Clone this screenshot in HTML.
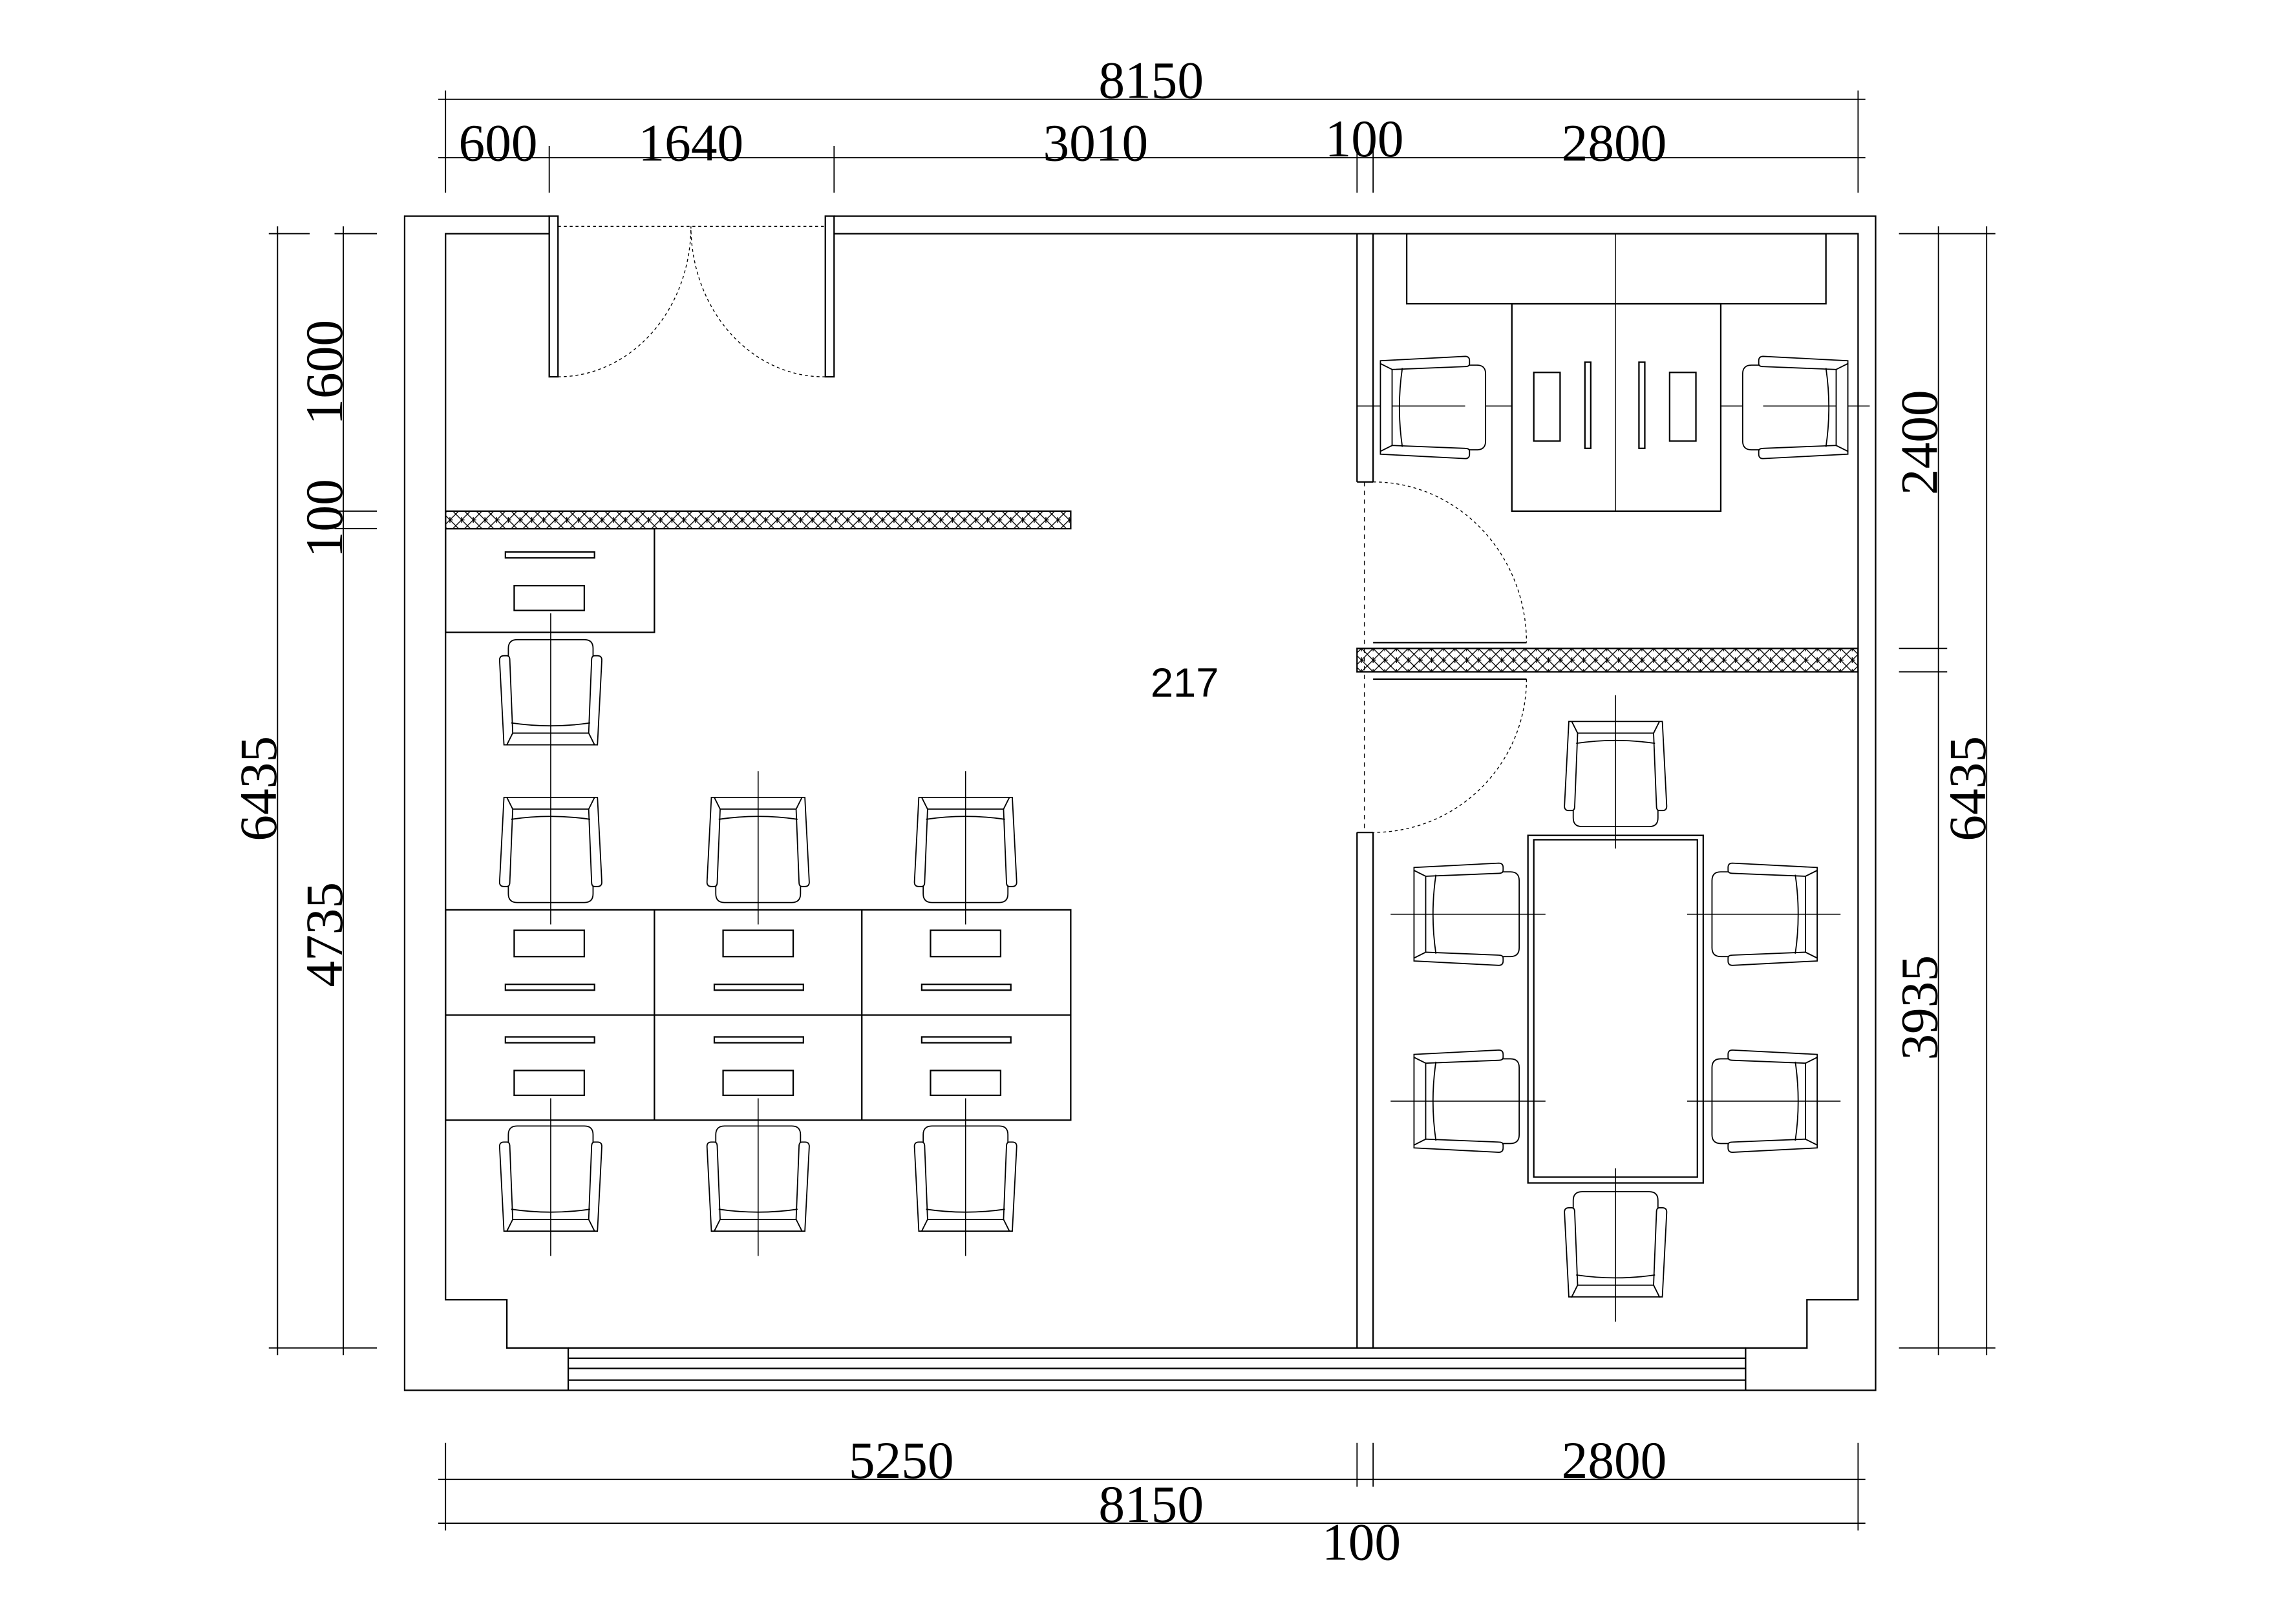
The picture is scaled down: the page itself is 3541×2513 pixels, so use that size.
<!DOCTYPE html>
<html><head><meta charset="utf-8"><style>
html,body{margin:0;padding:0;background:#fff;}
svg{display:block;}
text{font-family:"Liberation Serif",serif;fill:#000;}
</style></head><body>
<svg width="3541" height="2513" viewBox="0 0 1567 1112" preserveAspectRatio="none" xmlns="http://www.w3.org/2000/svg">
<defs>
<pattern id="h" width="8" height="8" patternUnits="userSpaceOnUse">
<path d="M0,0 L8,8 M8,0 L0,8 M4,2 L4,6 M4,4 L6,4" stroke="#000" stroke-width="0.6" fill="none"/>
</pattern>
<g id="ch" fill="#fff" stroke="#000" stroke-width="0.8">
<path d="M7,14 L7,6 Q7,0 13,0 L59,0 Q65,0 65,6 L65,14"/>
<path d="M1,14 Q1,11 4,11 L6,11 Q8,11 8,14 L10,64 L6,72 L4,72 Z"/>
<path d="M71,14 Q71,11 68,11 L66,11 Q64,11 64,14 L62,64 L66,72 L68,72 Z"/>
<path d="M10,64 L62,64 L66,72 L6,72 Z"/>
<path d="M9,57 Q36,61 63,57" fill="none"/>
</g>
</defs>
<rect width="1567" height="1112" fill="#fff"/>
<g stroke="#000" stroke-width="1" fill="none">
<path d="M376,148 L277,148 L277,952 L1284,952 L1284,148 L571,148"/>
<path d="M376,160 L305,160 L305,890 L347,890 L347,923 L389,923 L389,952 M1195,952 L1195,923 L1237,923 L1237,890 L1272,890 L1272,160 L571,160"/>
<path d="M389,923 L1195,923 M389,930 L1195,930 M389,937 L1195,937 M389,945 L1195,945"/>
<rect x="376" y="148" width="6" height="110"/>
<rect x="565" y="148" width="6" height="110"/>
<path d="M382,155 L565,155" stroke-dasharray="2,2" stroke-width="0.6"/>
<path d="M382,258 A91,103 0 0 0 473,155 M565,258 A91,103 0 0 1 473,155" stroke-dasharray="2,2" stroke-width="0.6"/>
<path d="M929,160 L929,330 M940,160 L940,330 M929,330 L940,330 M929,570 L929,923 M940,570 L940,923 M929,570 L940,570"/>
<path d="M934,330 L934,570" stroke-dasharray="3,3" stroke-width="0.6"/>
<path d="M940,330 A105,110 0 0 1 1045,440 M1045,465 A105,105 0 0 1 940,570" stroke-dasharray="2,2" stroke-width="0.6"/>
<path d="M940,440 L1045,440 M940,465 L1045,465"/>
</g>
<rect x="305" y="350" width="428" height="12" fill="url(#h)" stroke="#000" stroke-width="1"/>
<rect x="929" y="444" width="343" height="16" fill="url(#h)" stroke="#000" stroke-width="1"/>
<g stroke="#000" stroke-width="1" fill="none">
<rect x="305" y="362" width="143" height="71"/>
<rect x="346" y="378" width="61" height="4"/><rect x="352" y="401" width="48" height="17"/>
<rect x="305" y="623" width="428" height="144"/>
<path d="M305,695 L733,695 M448,623 L448,767 M590,623 L590,767"/>
<rect x="352" y="637" width="48" height="18"/><rect x="346" y="674" width="61" height="4"/>
<rect x="495" y="637" width="48" height="18"/><rect x="489" y="674" width="61" height="4"/>
<rect x="637" y="637" width="48" height="18"/><rect x="631" y="674" width="61" height="4"/>
<rect x="346" y="710" width="61" height="4"/><rect x="352" y="733" width="48" height="17"/>
<rect x="489" y="710" width="61" height="4"/><rect x="495" y="733" width="48" height="17"/>
<rect x="631" y="710" width="61" height="4"/><rect x="637" y="733" width="48" height="17"/>
<rect x="963" y="160" width="287" height="48"/>
<path d="M1106,160 L1106,350" stroke-width="0.6"/>
<rect x="1035" y="208" width="143" height="142"/>
<rect x="1050" y="255" width="18" height="47"/><rect x="1085" y="248" width="4" height="59"/>
<rect x="1122" y="248" width="4" height="59"/><rect x="1143" y="255" width="18" height="47"/>
<path d="M929,278 L1035,278 M1178,278 L1280,278" stroke-width="0.7"/>
<rect x="1046" y="572" width="120" height="238"/>
<rect x="1050" y="575" width="112" height="231"/>
</g>
<use href="#ch" x="341" y="438"/>
<use href="#ch" transform="translate(341,618) scale(1,-1)"/>
<use href="#ch" transform="translate(483,618) scale(1,-1)"/>
<use href="#ch" transform="translate(625,618) scale(1,-1)"/>
<use href="#ch" x="341" y="771"/>
<use href="#ch" x="483" y="771"/>
<use href="#ch" x="625" y="771"/>
<use href="#ch" transform="translate(981,279) rotate(90) translate(-36,-36)"/>
<use href="#ch" transform="translate(1229,279) rotate(-90) translate(-36,-36)"/>
<use href="#ch" transform="translate(1070,566) scale(1,-1)"/>
<use href="#ch" x="1070" y="816"/>
<use href="#ch" transform="translate(1004,626) rotate(90) translate(-36,-36)"/>
<use href="#ch" transform="translate(1004,754) rotate(90) translate(-36,-36)"/>
<use href="#ch" transform="translate(1208,626) rotate(-90) translate(-36,-36)"/>
<use href="#ch" transform="translate(1208,754) rotate(-90) translate(-36,-36)"/>
<g stroke="#000" stroke-width="0.7" fill="none">
<path d="M377,420 L377,633 M519,528 L519,633 M661,528 L661,633 M377,752 L377,860 M519,752 L519,860 M661,752 L661,860"/>
<path d="M1106,476 L1106,581 M1106,800 L1106,905 M952,626 L1058,626 M952,754 L1058,754 M1155,626 L1260,626 M1155,754 L1260,754"/>
</g>
<g stroke="#000" stroke-width="0.8" fill="none">
<path d="M300,68 L1277,68 M305,62 L305,132 M1272,62 L1272,132"/>
<path d="M300,108 L1277,108 M376,100 L376,132 M571,100 L571,132 M929,100 L929,132 M940,100 L940,132"/>
<path d="M184,160 L212,160 M184,923 L258,923 M190,155 L190,928"/>
<path d="M229,160 L258,160 M229,350 L258,350 M229,362 L258,362 M235,155 L235,928"/>
<path d="M1300,160 L1366,160 M1300,444 L1333,444 M1300,460 L1333,460 M1300,923 L1366,923 M1327,155 L1327,928 M1360,155 L1360,928"/>
<path d="M300,1013 L1277,1013 M300,1043 L1277,1043 M305,988 L305,1048 M1272,988 L1272,1048 M929,988 L929,1018 M940,988 L940,1018"/>
</g>
<g font-size="36">
<text x="788" y="67" text-anchor="middle">8150</text>
<text x="341" y="110" text-anchor="middle">600</text>
<text x="473" y="110" text-anchor="middle">1640</text>
<text x="750" y="110" text-anchor="middle">3010</text>
<text x="934" y="107" text-anchor="middle">100</text>
<text x="1105" y="110" text-anchor="middle">2800</text>
<text x="617" y="1012" text-anchor="middle">5250</text>
<text x="1105" y="1012" text-anchor="middle">2800</text>
<text x="788" y="1042" text-anchor="middle">8150</text>
<text x="932" y="1068" text-anchor="middle">100</text>
<text transform="translate(189,540) rotate(-90)" text-anchor="middle">6435</text>
<text transform="translate(234,255) rotate(-90)" text-anchor="middle">1600</text>
<text transform="translate(234,355) rotate(-90)" text-anchor="middle">100</text>
<text transform="translate(234,640) rotate(-90)" text-anchor="middle">4735</text>
<text transform="translate(1326,303) rotate(-90)" text-anchor="middle">2400</text>
<text transform="translate(1326,690) rotate(-90)" text-anchor="middle">3935</text>
<text transform="translate(1359,540) rotate(-90)" text-anchor="middle">6435</text>
</g>
<text x="811" y="477" text-anchor="middle" font-size="28" style="font-family:'Liberation Sans',sans-serif">217</text>
</svg>
</body></html>
